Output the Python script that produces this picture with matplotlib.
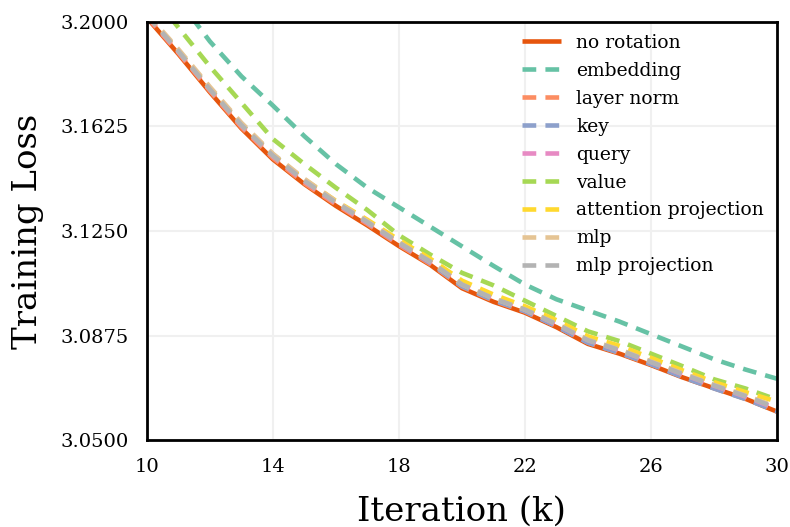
import matplotlib
matplotlib.use("Agg")
import matplotlib.pyplot as plt
from matplotlib.ticker import FormatStrFormatter

plt.rcParams['font.family'] = ['DejaVu Serif']

# Iterations in thousands
iterations = list(range(10, 31))

no_rotation = [3.2015, 3.1885, 3.1748, 3.1618, 3.1507, 3.1418, 3.1340, 3.1270, 3.1196, 3.1128,
               3.1045, 3.0996, 3.0957, 3.0905, 3.0845, 3.0810, 3.0769, 3.0725, 3.0686, 3.0648, 3.0602]
embedding = [3.2220, 3.2080, 3.1930, 3.1805, 3.1700, 3.1590, 3.1490, 3.1405, 3.1335, 3.1265,
             3.1195, 3.1125, 3.1058, 3.1005, 3.0965, 3.0925, 3.0880, 3.0835, 3.0790, 3.0753, 3.0720]
layer_norm = [3.2018, 3.1889, 3.1752, 3.1622, 3.1512, 3.1421, 3.1345, 3.1275, 3.1200, 3.1131,
              3.1050, 3.1000, 3.0961, 3.0909, 3.0850, 3.0812, 3.0772, 3.0729, 3.0688, 3.0650, 3.0606]
key = [3.2025, 3.1897, 3.1762, 3.1633, 3.1525, 3.1432, 3.1352, 3.1280, 3.1205, 3.1135,
       3.1052, 3.1002, 3.0962, 3.0908, 3.0849, 3.0813, 3.0772, 3.0726, 3.0685, 3.0647, 3.0603]
query = [3.2022, 3.1893, 3.1757, 3.1628, 3.1518, 3.1428, 3.1350, 3.1280, 3.1206, 3.1138,
         3.1060, 3.1010, 3.0968, 3.0915, 3.0858, 3.0822, 3.0780, 3.0736, 3.0695, 3.0656, 3.0612]
value = [3.2120, 3.1980, 3.1840, 3.1710, 3.1580, 3.1490, 3.1405, 3.1325, 3.1235, 3.1165,
         3.1100, 3.1055, 3.1000, 3.0945, 3.0890, 3.0855, 3.0810, 3.0765, 3.0718, 3.0685, 3.0645]
attention_projection = [3.2025, 3.1897, 3.1760, 3.1632, 3.1522, 3.1435, 3.1358, 3.1290, 3.1218, 3.1150,
                        3.1072, 3.1022, 3.0980, 3.0930, 3.0872, 3.0838, 3.0795, 3.0750, 3.0708, 3.0672, 3.0638]
mlp = [3.2030, 3.1902, 3.1767, 3.1638, 3.1527, 3.1437, 3.1357, 3.1285, 3.1210, 3.1140,
       3.1058, 3.1008, 3.0968, 3.0918, 3.0860, 3.0825, 3.0782, 3.0740, 3.0698, 3.0660, 3.0618]
mlp_projection = [3.2025, 3.1895, 3.1758, 3.1630, 3.1520, 3.1430, 3.1352, 3.1282, 3.1208, 3.1140,
                  3.1058, 3.1008, 3.0968, 3.0916, 3.0858, 3.0823, 3.0780, 3.0737, 3.0696, 3.0658, 3.0614]

labels = ["no rotation", "embedding", "layer norm", "key", "query", "value",
          "attention projection", "mlp", "mlp projection"]
colors = ["#e6550d", "#66c2a5", "#fc8d62", "#8da0cb", "#e78ac3", "#a6d854",
          "#ffd92f", "#e5c494", "#b3b3b3"]
series = [no_rotation, embedding, layer_norm, key, query, value,
          attention_projection, mlp, mlp_projection]

x_ticks = [10, 14, 18, 22, 26, 30]
y_ticks = [3.05, 3.0875, 3.125, 3.1625, 3.2]

fig = plt.figure(figsize=(7.9, 5.27), dpi=100)
ax = fig.add_axes([0.186, 0.165, 0.7975, 0.7933])

for i, (ys, lab, col) in enumerate(zip(series, labels, colors)):
    if i == 0:
        ax.plot(iterations, ys, color=col, lw=3.3, label=lab, solid_capstyle='butt')
    else:
        ax.plot(iterations, ys, color=col, lw=3.3, label=lab, linestyle=(0, (3.0, 2.0)))

ax.set_xlim(10, 30)
ax.set_ylim(3.05, 3.2)
ax.set_xticks(x_ticks)
ax.set_yticks(y_ticks)
ax.yaxis.set_major_formatter(FormatStrFormatter('%.4f'))
ax.tick_params(axis='both', length=0, pad=13, labelsize=14)
ax.grid(True, color='#f0f0f0', lw=1.5)
ax.set_axisbelow(True)
for sp in ax.spines.values():
    sp.set_linewidth(2)
    sp.set_color('black')

ax.set_xlabel("Iteration (k)", fontsize=24.5, labelpad=14)
ax.set_ylabel("Training Loss", fontsize=24.5, labelpad=12)

ax.legend(loc='upper right', frameon=False, fontsize=13.5, handlelength=2.1,
          labelspacing=0.53, handletextpad=0.8, borderaxespad=0.3,
          bbox_to_anchor=(1.0, 1.003))

fig.savefig("out.png", dpi=100)
